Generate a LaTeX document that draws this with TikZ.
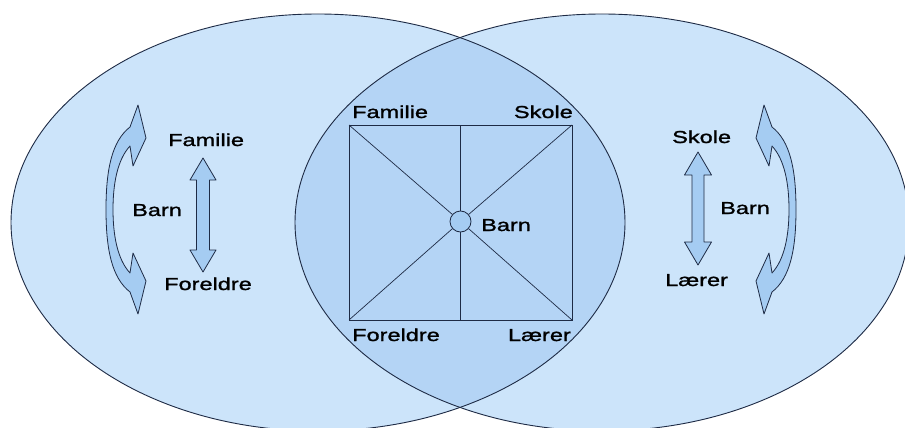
\documentclass[tikz,border=0pt]{standalone}
\usepackage{fontspec}
\setmainfont[FakeStretch=1.36,FakeBold=1.3]{Liberation Sans}
\definecolor{outerfill}{RGB}{204,228,250}
\definecolor{innerfill}{RGB}{180,212,245}
\definecolor{arrowfill}{RGB}{165,204,242}
\definecolor{linec}{RGB}{30,43,69}
\begin{document}
\begin{tikzpicture}[x=1pt,y=-1pt,
  lbl/.style={inner sep=0pt, font=\fontsize{17.3}{20}\selectfont, text=black},
  outline/.style={draw=linec, line width=0.9pt},
  arr/.style={draw=linec, line width=0.8pt, fill=arrowfill, line join=round}]
\path[use as bounding box, clip] (0,0) rectangle (905,428);
\fill[white] (0,0) rectangle (905,428);
% ellipses
\coordinate (eL) at (318,222.5);
\coordinate (eR) at (602,222.5);
\fill[outerfill] (eL) ellipse [x radius=307, y radius=208.5];
\fill[outerfill] (eR) ellipse [x radius=307, y radius=208.5];
\begin{scope}
  \clip (eL) ellipse [x radius=307, y radius=208.5];
  \fill[innerfill] (eR) ellipse [x radius=307, y radius=208.5];
\end{scope}
\draw[outline] (eL) ellipse [x radius=307, y radius=208.5];
\draw[outline] (eR) ellipse [x radius=307, y radius=208.5];
% central square
\coordinate (tl) at (349,125);
\coordinate (tr) at (572,125);
\coordinate (bl) at (349,320);
\coordinate (br) at (572,320);
\coordinate (tm) at (460.5,125);
\coordinate (bm) at (460.5,320);
\draw[outline, line width=0.8pt] (tl) rectangle (br);
\node[circle, draw=linec, line width=0.8pt, fill=arrowfill, minimum size=21pt, inner sep=0pt] (c) at (460.5,221.5) {};
\draw[outline, line width=0.7pt] (tl) -- (c);
\draw[outline, line width=0.7pt] (tr) -- (c);
\draw[outline, line width=0.7pt] (bl) -- (c);
\draw[outline, line width=0.7pt] (br) -- (c);
\draw[outline, line width=0.7pt] (tm) -- (c.north);
\draw[outline, line width=0.7pt] (c.south) -- (bm);
% central labels
\node[lbl, anchor=base west] (cfam) at (352,118) {Familie};
\node[lbl, anchor=base east] (csko) at (573,118) {Skole};
\node[lbl, anchor=base west] (cfor) at (352,341) {Foreldre};
\node[lbl, anchor=base east] (clae) at (571,341) {Lærer};
\node[lbl, anchor=base west] (cbarn) at (481,231) {Barn};
% left labels
\node[lbl, anchor=base west] (lfam) at (168,146) {Familie};
\node[lbl, anchor=base west] (lbarn) at (132,216) {Barn};
\node[lbl, anchor=base west] (lfor) at (164,290) {Foreldre};
% right labels
\node[lbl, anchor=base west] (rsko) at (672,143) {Skole};
\node[lbl, anchor=base west] (rbarn) at (720,214) {Barn};
\node[lbl, anchor=base west] (rlae) at (665,286) {Lærer};
% left straight double arrow
\draw[arr] (203,158) -- (216,180) -- (209.5,180) -- (209.5,250) -- (216,250) -- (203,272)
  -- (190,250) -- (196.5,250) -- (196.5,180) -- (190,180) -- cycle;
% right straight double arrow
\draw[arr] (698,152) -- (711.5,175) -- (704,175) -- (704,242) -- (711.5,242) -- (698,265)
  -- (684.5,242) -- (692,242) -- (692,175) -- (684.5,175) -- cycle;
% left curved arrow
\draw[arr] (130,127) -- (138,105) -- (146,138) -- (133,166) -- (130,146)
  .. controls (117,160) and (113,185) .. (113,209.5)
  .. controls (113,234) and (117,259) .. (130,273)
  -- (133,253) -- (146,281) -- (138,314) -- (130,292)
  .. controls (112,278) and (106,250) .. (106,209.5)
  .. controls (106,169) and (112,141) .. cycle;
% right curved arrow
\draw[arr] (772,127) -- (764,105) -- (756,138) -- (769,166) -- (772,146)
  .. controls (785,160) and (789,185) .. (789,209.5)
  .. controls (789,234) and (785,259) .. (772,273)
  -- (769,253) -- (756,281) -- (764,314) -- (772,292)
  .. controls (790,278) and (796,250) .. (796,209.5)
  .. controls (796,169) and (790,141) .. cycle;
\end{tikzpicture}
\end{document}
